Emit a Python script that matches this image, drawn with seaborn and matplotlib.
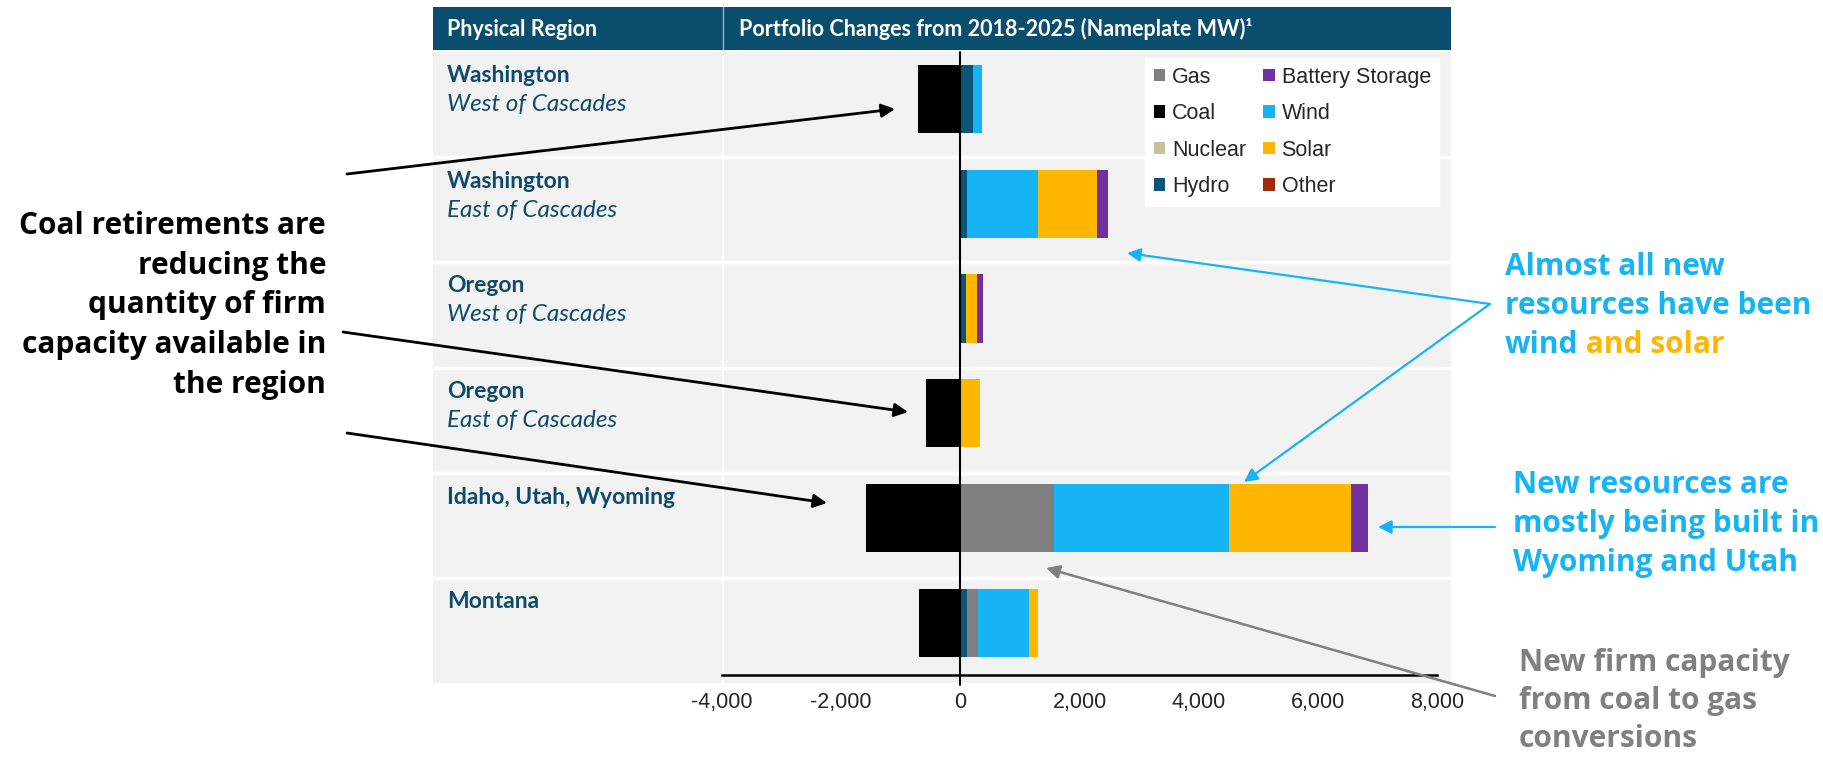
import numpy as np
import pandas as pd
import seaborn as sns
import matplotlib.pyplot as plt
from matplotlib.patches import Patch, Rectangle

# data (MW)
regions = ["Washington", "Washington", "Oregon", "Oregon", "Idaho, Utah, Wyoming", "Montana"]
subregions = ["West of Cascades", "East of Cascades", "West of Cascades", "East of Cascades", "", ""]
coal = [-710, 0, 0, -580, -1590, -700]
hydro = [210, 110, 100, 0, 0, 110]
gas = [0, 0, 0, 0, 1560, 180]
nuclear = [0, 0, 0, 0, 0, 0]
wind = [145, 1190, 0, 0, 2940, 855]
solar = [0, 985, 180, 320, 2050, 160]
battery = [0, 190, 90, 0, 280, 0]
other = [0, 0, 0, 0, 0, 0]
xticks = [-4000, -2000, 0, 2000, 4000, 6000, 8000]

colors = {"Gas": "#808080", "Coal": "#000000", "Nuclear": "#c8bf9b", "Hydro": "#0d5576",
          "Battery Storage": "#7030a0", "Wind": "#17b4f5", "Solar": "#ffb600", "Other": "#a02b0a"}
legend_order = ["Gas", "Coal", "Nuclear", "Hydro", "Battery Storage", "Wind", "Solar", "Other"]
stack_order = ["Hydro", "Gas", "Nuclear", "Wind", "Solar", "Battery Storage", "Other"]

header_col = "#0a4d6c"
label_col = "#0f4b69"
blue = "#17b4f5"
orange = "#ffb600"
grey = "#808080"

row_ids = [f"{r} {s}".strip() for r, s in zip(regions, subregions)]
df = pd.DataFrame({"row": row_ids, "Coal": coal, "Hydro": hydro, "Gas": gas, "Nuclear": nuclear,
                   "Wind": wind, "Solar": solar, "Battery Storage": battery, "Other": other})
cum = df[stack_order].cumsum(axis=1)
cum["row"] = df["row"]

W, H = 1823, 763
sns.set_style("white")
fig = plt.figure(figsize=(W / 100, H / 100), dpi=100)

# background table (pixel coords)
bg = fig.add_axes([0, 0, 1, 1], zorder=0)
bg.set_xlim(0, W)
bg.set_ylim(H, 0)
bg.axis("off")
bg.add_patch(Rectangle((433, 7), 1451 - 433, 43, color=header_col, lw=0))
bg.plot([723, 723], [7, 50], color="#9fb6c3", lw=1)
row_tops = [52, 157, 262, 368, 473, 578]
bg.add_patch(Rectangle((433, 52), 1451 - 433, 683 - 52, color="#f2f2f2", lw=0))
for y in row_tops[1:]:
    bg.plot([433, 1451], [y, y], color="white", lw=2.5)
bg.plot([723, 723], [52, 683], color="white", lw=1.2)
bg.text(447, 29, "Physical Region", color="white", fontsize=15.5, fontweight="bold",
        family="Lato", va="center", ha="left")
bg.text(739, 29, "Portfolio Changes from 2018-2025 (Nameplate MW)¹", color="white", fontsize=15.5,
        fontweight="bold", family="Lato", va="center", ha="left")
for top, r, s in zip(row_tops, regions, subregions):
    bg.text(447, top + 24, r, color=label_col, fontsize=16.5, fontweight="bold", family="Lato",
            va="center", ha="left")
    if s:
        bg.text(447, top + 53, s, color=label_col, fontsize=17.5, style="italic", family="Lato",
                va="center", ha="left")

# chart
ax = fig.add_axes([722 / W, 1 - 675.4 / H, 715.5 / W, 629 / H], zorder=1)
ax.patch.set_alpha(0)
for s in reversed(stack_order):
    sns.barplot(data=cum, x=s, y="row", order=row_ids, color=colors[s], saturation=1,
                width=0.65, errorbar=None, linewidth=0, orient="h", ax=ax)
sns.barplot(data=df, x="Coal", y="row", order=row_ids, color=colors["Coal"], saturation=1,
            width=0.65, errorbar=None, linewidth=0, orient="h", ax=ax)
ax.set_xlim(-4000, 8000)
ax.set_ylim(5.5, -0.5)
ax.set_xticks(xticks)
ax.set_xticklabels([f"{v:,}" for v in xticks], family="Liberation Sans", fontsize=15.5)
ax.tick_params(axis="x", length=0, pad=12)
ax.set_yticks([])
ax.set_xlabel("")
ax.set_ylabel("")
for sp in ["top", "left", "right"]:
    ax.spines[sp].set_visible(False)
ax.spines["bottom"].set_color("black")
ax.spines["bottom"].set_linewidth(1.8)
ax.axvline(0, ymin=-0.015, ymax=0.991, color="black", lw=1.5, clip_on=False)

handles = [Patch(facecolor=colors[k], edgecolor="none") for k in legend_order]
ax.legend(handles, legend_order, ncol=2, loc="upper left", bbox_to_anchor=(1145 / W, 1 - 58 / H),
          bbox_transform=fig.transFigure, frameon=True, fancybox=False, edgecolor="white",
          facecolor="white", framealpha=1, prop={"family": "Liberation Sans", "size": 15.5},
          handlelength=0.55, handleheight=0.55, handletextpad=0.3, labelspacing=0.72,
          columnspacing=0.8, borderpad=0.4, borderaxespad=0)

# annotations overlay
ov = fig.add_axes([0, 0, 1, 1], zorder=2)
ov.set_xlim(0, W)
ov.set_ylim(H, 0)
ov.axis("off")
ov.patch.set_alpha(0)

ann_font = dict(fontsize=21.5, fontweight="bold", family="Open Sans")
left_lines = ["Coal retirements are", "reducing the", "quantity of firm", "capacity available in", "the region"]
for i, t in enumerate(left_lines):
    ov.text(326, 226 + 39.7 * i, t, color="black", ha="right", va="center", **ann_font)

almost = ["Almost all new", "resources have been", "wind"]
for i, t in enumerate(almost):
    txt = ov.text(1505, 267 + 39 * i, t, color=blue, ha="left", va="center", **ann_font)
ov.annotate(" and solar", xy=(1, 0.5), xycoords=txt, color=orange, ha="left", va="center", **ann_font)

for i, t in enumerate(["New resources are", "mostly being built in", "Wyoming and Utah"]):
    ov.text(1513, 485 + 39 * i, t, color=blue, ha="left", va="center", **ann_font)
for i, t in enumerate(["New firm capacity", "from coal to gas", "conversions"]):
    ov.text(1519, 663 + 38 * i, t, color=grey, ha="left", va="center", **ann_font)

arrows = [((347, 174), (895, 109), "black", 2.0),
          ((343, 332), (908, 412), "black", 2.0),
          ((347, 433), (827, 503), "black", 2.0),
          ((1490, 304), (1127, 253), blue, 1.6),
          ((1490, 304), (1244, 482), blue, 1.6),
          ((1495, 527), (1378, 527), blue, 1.6),
          ((1495, 696), (1046, 568), grey, 1.8)]
for start, tip, c, lw in arrows:
    ov.annotate("", xy=tip, xytext=start,
                arrowprops=dict(arrowstyle="-|>", color=c, lw=lw, mutation_scale=20,
                                shrinkA=0, shrinkB=0))

fig.savefig("out.png", dpi=100)
